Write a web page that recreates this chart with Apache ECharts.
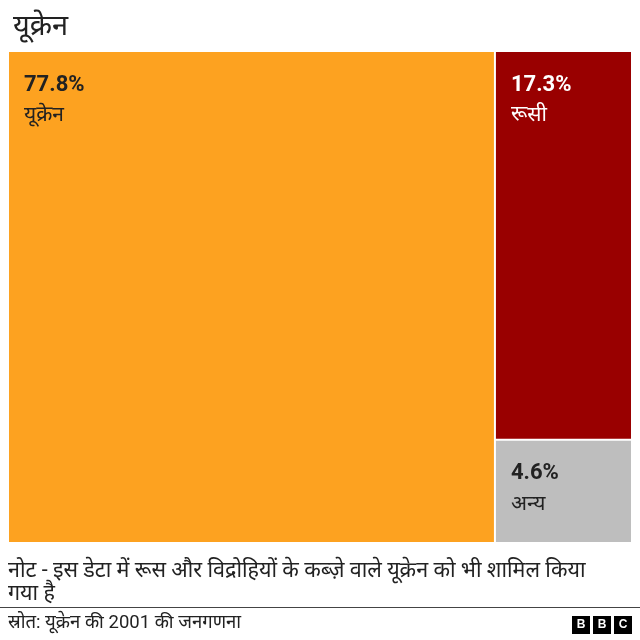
<!DOCTYPE html>
<html><head><meta charset="utf-8">
<script src="https://cdn.jsdelivr.net/npm/echarts@6/dist/echarts.min.js"></script>
<style>html,body{margin:0;padding:0;background:#fff}#c{width:640px;height:640px}</style>
</head><body><div id="c"></div>
<script>
const names = ['यूक्रेन', 'रूसी', 'अन्य'];
const values = [77.8, 17.3, 4.6];
const colors = ['#fda220', '#990000', '#bebebe'];
const textColors = ['#222222', '#ffffff', '#222222'];

const FONT = "Roboto, 'Noto Sans', 'Noto Sans Devanagari', sans-serif";
const chart = echarts.init(document.getElementById('c'));
chart.setOption({
  animation: false,
  textStyle: { fontFamily: FONT },
  title: { text: 'यूक्रेन', left: 8, top: 8, textStyle: { fontSize: 29, fontWeight: 'normal', color: '#222', fontFamily: FONT } },
  series: [{
    type: 'treemap',
    left: 9, top: 52, width: 622, height: 490,
    roam: false, nodeClick: false,
    breadcrumb: { show: false },
    squareRatio: 0.5 * (1 + Math.sqrt(5)),
    itemStyle: { borderWidth: 0, gapWidth: 2, borderColor: '#fff' },
    levels: [{ itemStyle: { borderWidth: 0, gapWidth: 2, borderColor: '#fff' } }],
    label: {
      show: true, position: 'insideTopLeft', distance: 0, padding: [18, 0, 0, 15],
      formatter: p => '{v|' + p.value.toFixed(1) + '%}\n{n|' + p.name + '}'
    },
    data: names.map((n, i) => ({
      name: n, value: values[i],
      itemStyle: { color: colors[i] },
      label: {
        rich: {
          v: { fontSize: 22, fontWeight: 'bold', color: textColors[i], lineHeight: 30, fontFamily: FONT },
          n: { fontSize: 21, color: textColors[i], lineHeight: 32, fontFamily: FONT }
        }
      }
    }))
  }],
  graphic: [
    { type: 'text', left: 8, top: 560, style: { text: 'नोट - इस डेटा में रूस और विद्रोहियों के कब्ज़े वाले यूक्रेन को भी शामिल किया\nगया है', lineHeight: 23, fill: '#222', font: '21.5px ' + FONT } },
    { type: 'rect', shape: { x: 0, y: 607, width: 640, height: 1 }, style: { fill: '#444' } },
    { type: 'text', left: 8, top: 614, style: { text: 'स्रोत: यूक्रेन की 2001 की जनगणना', fill: '#222', font: '18.5px ' + FONT } },
    { type: 'rect', shape: { x: 572, y: 616, width: 18, height: 18 }, style: { fill: '#000' } },
    { type: 'rect', shape: { x: 593, y: 616, width: 18, height: 18 }, style: { fill: '#000' } },
    { type: 'rect', shape: { x: 614, y: 616, width: 18, height: 18 }, style: { fill: '#000' } },
    { type: 'text', x: 581, y: 625, style: { text: 'B', fill: '#fff', font: 'bold 12px Arial, sans-serif', align: 'center', verticalAlign: 'middle' } },
    { type: 'text', x: 602, y: 625, style: { text: 'B', fill: '#fff', font: 'bold 12px Arial, sans-serif', align: 'center', verticalAlign: 'middle' } },
    { type: 'text', x: 623, y: 625, style: { text: 'C', fill: '#fff', font: 'bold 12px Arial, sans-serif', align: 'center', verticalAlign: 'middle' } }
  ]
});
</script></body></html>
